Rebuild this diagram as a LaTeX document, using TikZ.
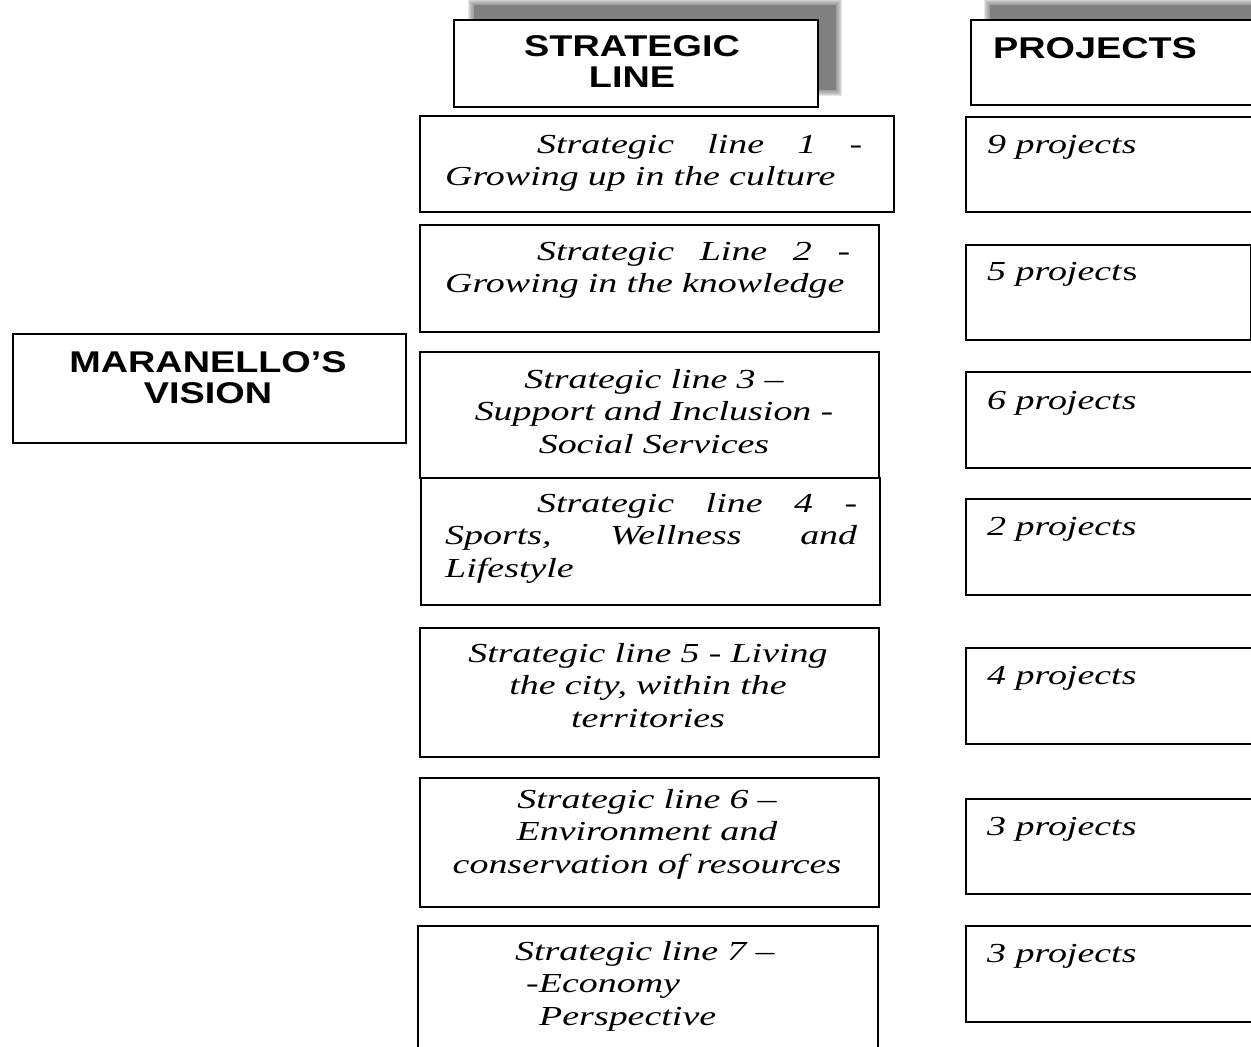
\documentclass[tikz,border=0pt]{standalone}
\usepackage{fontspec}
% wide serif italic for the body text, wide bold sans for the headings
\newfontfamily\bodyfont[FakeStretch=1.38]{Liberation Serif}
\newfontfamily\headfont[FakeStretch=1.26]{Liberation Sans}
\begin{document}
\begin{tikzpicture}[x=1pt,y=-1pt,
  sbox/.style={draw=black, line width=1.5pt, fill=white, inner sep=0pt, anchor=north west},
  htext/.style={font=\headfont\bfseries\fontsize{30}{31}\selectfont, inner sep=0pt, align=center},
  btext/.style={font=\bodyfont\itshape\fontsize{27.5}{32.5}\selectfont, inner sep=0pt},
  ntext/.style={btext, anchor=base west},
  halo/.style={fill=black!50, opacity=0.2}]
\useasboundingbox (0,0) rectangle (1251,1047);

% soft grey shadows behind the two column headings
\foreach \g in {6,5,4,3,2,1} {
  \fill[halo] (474-\g,5-\g) rectangle (836+\g,90+\g);
  \fill[halo] (990-\g,5-\g) rectangle (1262+\g,88+\g);
}
\fill[black!50] (474,5) rectangle (836,90);
\fill[black!50] (990,5) rectangle (1262,88);

% column headings
\node[sbox, minimum width=364pt, minimum height=87pt] (hs) at (453,19) {};
\node[htext, anchor=base, text width=360pt] (hst) at (632,56) {STRATEGIC\\LINE};
\node[sbox, minimum width=290pt, minimum height=85pt] (hp) at (970,19) {};
\node[htext, anchor=base west] (hpt) at (993,58) {PROJECTS};

% vision
\node[sbox, minimum width=393pt, minimum height=109pt] (mv) at (12,333) {};
\node[htext, anchor=base, text width=390pt] (mvt) at (208,372) {MARANELLO’S\\VISION};

% strategic lines
\node[sbox, minimum width=474pt, minimum height=96pt] (s1) at (419,115) {};
\node[btext, anchor=base west, text width=417pt, align=left] (s1t) at (445,153)
  {\hspace*{92pt}Strategic\hfill line\hfill 1\hfill -\\Growing up in the culture};

\node[sbox, minimum width=459pt, minimum height=107pt] (s2) at (419,224) {};
\node[btext, anchor=base west, text width=405pt, align=left] (s2t) at (445,260)
  {\hspace*{92pt}Strategic\hfill Line\hfill 2\hfill -\\Growing in the knowledge};

\node[sbox, minimum width=459pt, minimum height=126pt] (s3) at (419,351) {};
\node[btext, anchor=base, text width=440pt, align=center] (s3t) at (654,388)
  {Strategic line 3 –\\Support and Inclusion -\\Social Services};

\node[sbox, minimum width=459pt, minimum height=127pt] (s4) at (420,477) {};
\node[btext, anchor=base west, text width=412pt, align=left] (s4t) at (445,512)
  {\hspace*{92pt}Strategic\hfill line\hfill 4\hfill -\\Sports,\hfill Wellness\hfill and\\Lifestyle};

\node[sbox, minimum width=459pt, minimum height=129pt] (s5) at (419,627) {};
\node[btext, anchor=base, text width=440pt, align=center] (s5t) at (648,662)
  {Strategic line 5 - Living\\the city, within the\\territories};

\node[sbox, minimum width=459pt, minimum height=129pt] (s6) at (419,777) {};
\node[btext, anchor=base, text width=440pt, align=center] (s6t) at (647,808)
  {Strategic line 6 –\\Environment and\\conservation of resources};

\node[sbox, minimum width=460pt, minimum height=140pt] (s7) at (417,925) {};
\node[btext, anchor=base west, text width=320pt, align=left] (s7t) at (515,960)
  {Strategic line 7 –\\\hspace*{11pt}-Economy\\\hspace*{24pt}Perspective};

% project counts
\node[sbox, minimum width=295pt, minimum height=95pt] (p1) at (965,116) {};
\node[ntext] (p1t) at (987,153) {9 projects};
\node[sbox, minimum width=285pt, minimum height=95pt] (p2) at (965,244) {};
\node[ntext] (p2t) at (987,280) {5 project\textup{s}};
\node[sbox, minimum width=295pt, minimum height=96pt] (p3) at (965,371) {};
\node[ntext] (p3t) at (987,409) {6 projects};
\node[sbox, minimum width=295pt, minimum height=96pt] (p4) at (965,498) {};
\node[ntext] (p4t) at (987,535) {2 projects};
\node[sbox, minimum width=295pt, minimum height=96pt] (p5) at (965,647) {};
\node[ntext] (p5t) at (987,684) {4 projects};
\node[sbox, minimum width=295pt, minimum height=95pt] (p6) at (965,798) {};
\node[ntext] (p6t) at (987,835) {3 projects};
\node[sbox, minimum width=295pt, minimum height=96pt] (p7) at (965,925) {};
\node[ntext] (p7t) at (987,962) {3 projects};
\end{tikzpicture}
\end{document}
